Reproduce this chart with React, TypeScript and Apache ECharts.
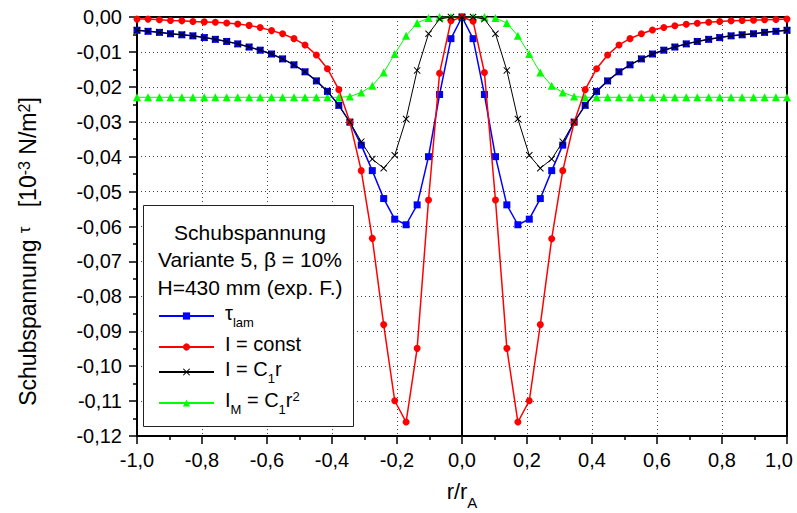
import React, { useEffect, useRef } from 'react';
import * as echarts from 'echarts';

const rValues = [
  -1.0, -0.966, -0.931, -0.897, -0.862, -0.828, -0.793, -0.759, -0.724, -0.69,
  -0.655, -0.621, -0.586, -0.552, -0.517, -0.483, -0.448, -0.414, -0.379, -0.345,
  -0.31, -0.276, -0.241, -0.207, -0.172, -0.138, -0.103, -0.069, -0.034, 0.0,
  0.034, 0.069, 0.103, 0.138, 0.172, 0.207, 0.241, 0.276, 0.31, 0.345,
  0.379, 0.414, 0.448, 0.483, 0.517, 0.552, 0.586, 0.621, 0.655, 0.69,
  0.724, 0.759, 0.793, 0.828, 0.862, 0.897, 0.931, 0.966, 1.0,
];

const tauLam = [
  -0.0038, -0.0041, -0.0044, -0.0048, -0.0051, -0.0054, -0.0059, -0.0064, -0.007, -0.0077,
  -0.0086, -0.0095, -0.0106, -0.012, -0.0137, -0.0157, -0.0183, -0.0213, -0.0253, -0.0301,
  -0.0367, -0.044, -0.052, -0.0579, -0.0595, -0.0538, -0.04, -0.0222, -0.0062, 0.0,
  -0.0062, -0.0222, -0.04, -0.0538, -0.0595, -0.0579, -0.052, -0.044, -0.0367, -0.0301,
  -0.0253, -0.0213, -0.0183, -0.0157, -0.0137, -0.012, -0.0106, -0.0095, -0.0086, -0.0077,
  -0.007, -0.0064, -0.0059, -0.0054, -0.0051, -0.0048, -0.0044, -0.0041, -0.0038,
];

const iConst = [
  -0.0006, -0.0006, -0.0008, -0.001, -0.0011, -0.0013, -0.0014, -0.0015, -0.0017, -0.002,
  -0.0024, -0.003, -0.0039, -0.0048, -0.0062, -0.008, -0.0109, -0.0148, -0.0208, -0.0301,
  -0.044, -0.0634, -0.0881, -0.1099, -0.116, -0.0949, -0.0524, -0.0161, -0.0011, 0.0,
  -0.0012, -0.0159, -0.0524, -0.0949, -0.116, -0.1099, -0.0881, -0.0635, -0.044, -0.0302,
  -0.0208, -0.0148, -0.0109, -0.008, -0.0062, -0.0048, -0.0037, -0.003, -0.0025, -0.0021,
  -0.0018, -0.0015, -0.0013, -0.0011, -0.001, -0.0009, -0.0008, -0.0007, -0.0006,
];

const iC1r = [
  -0.0038, -0.0041, -0.0044, -0.0048, -0.0051, -0.0054, -0.0059, -0.0064, -0.007, -0.0077,
  -0.0086, -0.0095, -0.0106, -0.012, -0.0137, -0.0157, -0.0183, -0.0213, -0.0253, -0.0301,
  -0.0357, -0.0407, -0.0433, -0.0396, -0.0292, -0.0153, -0.0048, -0.0006, 0.0, 0.0,
  0.0, -0.0006, -0.0048, -0.0153, -0.0292, -0.0396, -0.0433, -0.0407, -0.0357, -0.0301,
  -0.0253, -0.0213, -0.0183, -0.0157, -0.0137, -0.012, -0.0106, -0.0095, -0.0086, -0.0077,
  -0.007, -0.0064, -0.0059, -0.0054, -0.0051, -0.0048, -0.0044, -0.0041, -0.0038,
];

const iMC1r2 = [
  -0.023, -0.023, -0.023, -0.023, -0.023, -0.023, -0.023, -0.023, -0.023, -0.023,
  -0.023, -0.023, -0.023, -0.023, -0.023, -0.023, -0.023, -0.023, -0.023, -0.0228,
  -0.0216, -0.0197, -0.0159, -0.0106, -0.0054, -0.0017, -0.0003, 0.0, 0.0, 0.0,
  0.0, 0.0, -0.0003, -0.0017, -0.0054, -0.0106, -0.0159, -0.0197, -0.0216, -0.0228,
  -0.023, -0.023, -0.023, -0.023, -0.023, -0.023, -0.023, -0.023, -0.023, -0.023,
  -0.023, -0.023, -0.023, -0.023, -0.023, -0.023, -0.023, -0.023, -0.023,
];

const boxTitleLines = ['Schubspannung', 'Variante 5, β = 10%', 'H=430 mm (exp. F.)'];

const legendLabels: Record<string, string> = {
  tauLam: '{m|τ}{s|lam}',
  iConst: '{m|I = const}',
  iC1r: '{m|I = C}{s|1}{m|r}',
  iMC1r2: '{m|I}{s|M}{m| = C}{s|1}{m|r}{p|2}',
};

const FONT = 'Arial, "Liberation Sans", sans-serif';

const richStyles = (size: number) => ({
  m: { fontSize: size, fontFamily: FONT, color: '#000', lineHeight: size + 6, verticalAlign: 'top' },
  t: { fontSize: size - 6, fontFamily: FONT, color: '#000', lineHeight: size + 6, verticalAlign: 'top' },
  s: { fontSize: size - 7, fontFamily: FONT, color: '#000', lineHeight: size - 7, verticalAlign: 'top', padding: [size - 7, 0, 0, 0] },
  p: { fontSize: size - 7, fontFamily: FONT, color: '#000', lineHeight: size - 7, verticalAlign: 'top' },
  e: { fontSize: size, fontFamily: FONT, color: '#000', padding: [0, 16, 0, 0] },
});

const X_SYMBOL = 'path://M0,1 L1,0 L5,4 L9,0 L10,1 L6,5 L10,9 L9,10 L5,6 L1,10 L0,9 L4,5 Z';

export default function App() {
  const ref = useRef<HTMLDivElement>(null);
  useEffect(() => {
    const chart = echarts.init(ref.current!, null, { renderer: 'svg' });
    const pairs = (ys: number[]) => rValues.map((x, i) => [x, ys[i]]);
    const option: any = {
      animation: false,
      backgroundColor: '#fff',
      textStyle: { fontFamily: FONT },
      grid: { left: 137, right: 10, top: 17, bottom: 77, containLabel: false, outerBoundsMode: 'none' },
      xAxis: [
        {
          type: 'value',
          min: -1,
          max: 1,
          interval: 0.2,
          position: 'bottom',
          name: '{m|r/r}{s|A}',
          nameLocation: 'middle',
          nameGap: 44,
          nameTextStyle: { rich: richStyles(22) },
          axisLine: { show: true, onZero: false, lineStyle: { color: '#000', width: 2 } },
          axisTick: { show: true, inside: false, length: 8, lineStyle: { color: '#000', width: 1.5 } },
          minorTick: { show: true, splitNumber: 2, length: 4, lineStyle: { color: '#000', width: 1.5 } },
          axisLabel: {
            margin: 14,
            fontSize: 20,
            fontFamily: FONT,
            color: '#000',
            rich: richStyles(20),
            formatter: (v: number) => {
              const s = v.toFixed(1).replace('.', ',').replace('-0,0', '0,0');
              return v >= 0.999 ? `{e|${s}}` : s;
            },
          },
          splitLine: { show: true, lineStyle: { color: '#444', width: 1, type: [1, 3] } },
        },
        {
          type: 'value',
          min: -1,
          max: 1,
          position: 'top',
          axisLine: { show: true, onZero: false, lineStyle: { color: '#000', width: 2 } },
          axisTick: { show: false },
          axisLabel: { show: false },
          splitLine: { show: false },
        },
      ],
      yAxis: [
        {
          type: 'value',
          min: -0.12,
          max: 0,
          interval: 0.01,
          position: 'left',
          name: '{m|Schubspannung }{t|τ}{m|   [10}{p|-3}{m| N/m}{p|2}{m|]}',
          nameLocation: 'middle',
          nameGap: 92,
          nameTextStyle: { rich: richStyles(23), padding: [0, 50, 0, 0] },
          axisLine: { show: true, onZero: false, lineStyle: { color: '#000', width: 2 } },
          axisTick: { show: true, inside: false, length: 8, lineStyle: { color: '#000', width: 1.5 } },
          minorTick: { show: true, splitNumber: 2, length: 4, lineStyle: { color: '#000', width: 1.5 } },
          axisLabel: {
            margin: 15,
            fontSize: 20,
            fontFamily: FONT,
            color: '#000',
            formatter: (v: number) => {
              const s = v.toFixed(2).replace('.', ',');
              return s === '-0,00' ? '0,00' : s;
            },
          },
          splitLine: { show: true, lineStyle: { color: '#444', width: 1, type: [1, 3] } },
        },
        {
          type: 'value',
          min: -0.12,
          max: 0,
          position: 'right',
          axisLine: { show: true, onZero: false, lineStyle: { color: '#000', width: 2 } },
          axisTick: { show: false },
          axisLabel: { show: false },
          splitLine: { show: false },
        },
      ],
      legend: {
        orient: 'vertical',
        left: 158,
        top: 303,
        padding: 0,
        itemGap: 5,
        itemWidth: 55,
        itemHeight: 9,
        z: 20,
        data: ['tauLam', 'iConst', 'iC1r', 'iMC1r2'],
        formatter: (name: string) => legendLabels[name],
        textStyle: { fontSize: 20, fontFamily: FONT, color: '#000', padding: [0, 0, 0, 6], rich: richStyles(20) },
      },
      graphic: [
        {
          type: 'rect',
          z: 15,
          shape: { x: 143.5, y: 205.5, width: 210, height: 221 },
          style: { fill: '#fff', stroke: '#222', lineWidth: 1 },
        },
        ...boxTitleLines.map((t, i) => ({
          type: 'text',
          z: 16,
          x: 250,
          y: 232 + i * 27.5,
          style: {
            text: t,
            fill: '#000',
            font: `21px ${FONT}`,
            align: 'center',
            verticalAlign: 'middle',
          },
        })),
      ],
      series: [
        {
          name: 'tauLam',
          type: 'line',
          z: 3,
          data: pairs(tauLam),
          symbol: 'rect',
          symbolSize: 7,
          itemStyle: { color: '#0000ff' },
          lineStyle: { color: '#0000ff', width: 1.5 },
        },
        {
          name: 'iConst',
          type: 'line',
          z: 4,
          data: pairs(iConst),
          symbol: 'circle',
          symbolSize: 7,
          itemStyle: { color: '#ff0000' },
          lineStyle: { color: '#ff0000', width: 1.5 },
        },
        {
          name: 'iC1r',
          type: 'line',
          z: 5,
          data: pairs(iC1r),
          symbol: X_SYMBOL,
          symbolSize: 7,
          itemStyle: { color: '#000' },
          lineStyle: { color: '#000', width: 1 },
        },
        {
          name: 'iMC1r2',
          type: 'line',
          z: 2,
          data: pairs(iMC1r2),
          symbol: 'triangle',
          symbolSize: 8,
          itemStyle: { color: '#00ff00' },
          lineStyle: { color: '#00ff00', width: 1 },
          markLine: {
            silent: true,
            symbol: 'none',
            label: { show: false },
            lineStyle: { color: '#000', width: 2, type: 'solid' },
            data: [{ xAxis: 0 }],
          },
        },
      ],
    };
    chart.setOption(option);
    return () => chart.dispose();
  }, []);
  return <div ref={ref} style={{ position: 'fixed', left: 0, top: 0, width: 797, height: 513 }} />;
}
